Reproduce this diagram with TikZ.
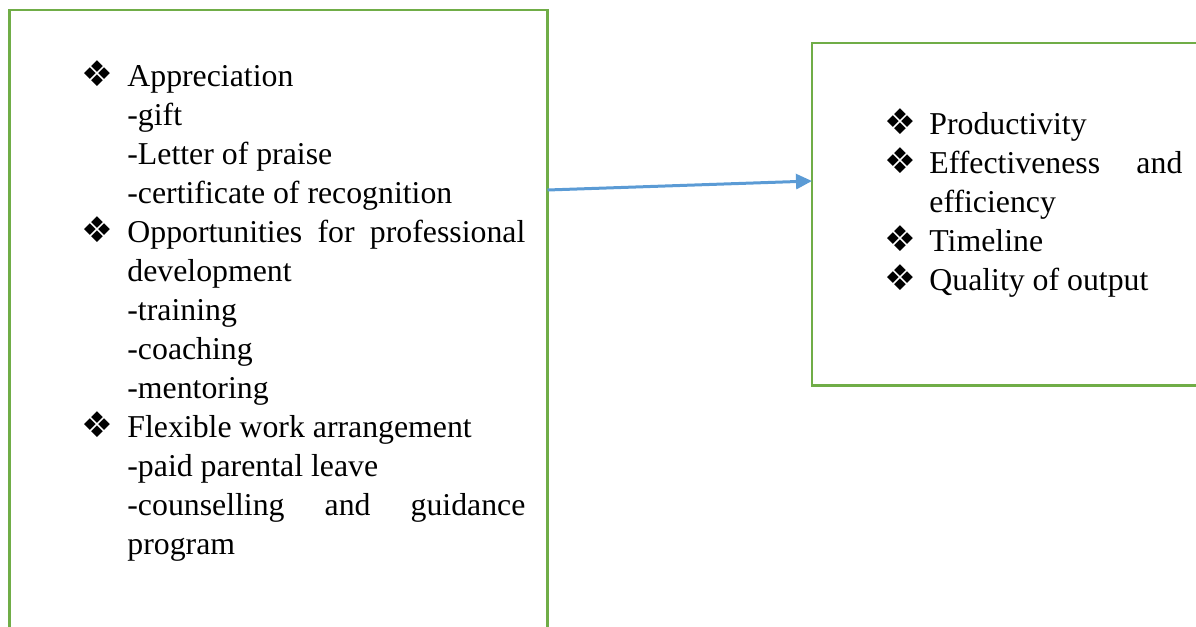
\documentclass[tikz,border=0pt]{standalone}
\usepackage{fontspec}
\setmainfont{Liberation Serif}
\newfontfamily\dingfont{DejaVu Sans}
\usetikzlibrary{arrows.meta}
\definecolor{framegreen}{RGB}{112,173,71}
\definecolor{linkblue}{RGB}{91,155,213}
% bullet item with hanging indent
\newcommand{\ditem}[1]{\noindent\hangindent=#1\relax\hangafter=1\relax\makebox[#1][l]{\dingfont\fontsize{17.75}{17.75}\selectfont ❖}}
\tikzset{
  frame/.style={draw=framegreen, line width=1.4pt, inner sep=0pt, outer sep=0pt, anchor=north west},
  list/.style={inner sep=0pt, anchor=base west, align=justify,
    font=\fontsize{15.9}{19.5}\selectfont,
    execute at begin node={\hyphenpenalty=10000\relax\exhyphenpenalty=10000\relax\tolerance=10000\relax}},
  link/.style={draw=linkblue, line width=1.5pt, -{Triangle[length=8pt,width=7.5pt]}}
}
\begin{document}
\begin{tikzpicture}[x=0.5pt,y=-0.5pt]
  \useasboundingbox (0,0) rectangle (1196,627);
  \clip (0,0) rectangle (1196,627);
  \node[frame, minimum width=269pt, minimum height=325pt] (causes) at (9.5,10) {};
  \node[frame, minimum width=210pt, minimum height=171.25pt] (effects) at (812,43) {};
  \node[list, text width=221.75pt] (causelist) at (81.5,86.5) {%
    \ditem{22.75pt}Appreciation\\-gift\\-Letter of praise\\-certificate of recognition\par
    \ditem{22.75pt}Opportunities for professional development\\-training\\-coaching\\-mentoring\par
    \ditem{22.75pt}Flexible work arrangement\\-paid parental leave\\-counselling and guidance program\par};
  \node[list, text width=149pt] (effectlist) at (884,134.5) {%
    \ditem{22.5pt}Productivity\par
    \ditem{22.5pt}Effectiveness and efficiency\par
    \ditem{22.5pt}Timeline\par
    \ditem{22.5pt}Quality of output\par};
  \draw[link] (causes.east |- 0,190) -- (effects.west |- 0,181);
\end{tikzpicture}
\end{document}
